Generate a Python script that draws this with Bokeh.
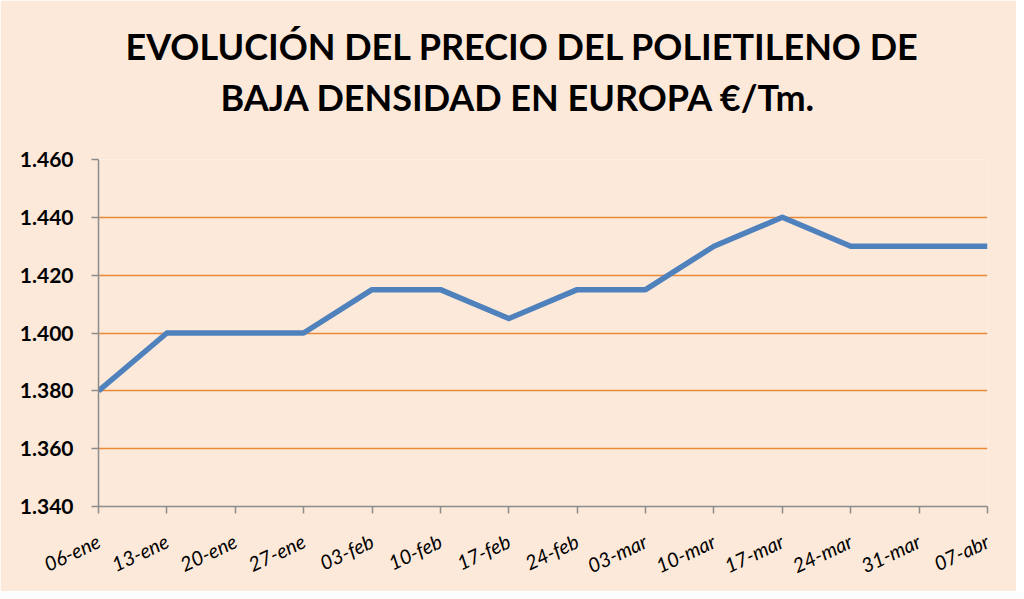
from bokeh.plotting import figure
from bokeh.models import Title, FixedTicker, Range1d
from bokeh.embed import file_html
from bokeh.resources import INLINE

fechas = ["06-ene", "13-ene", "20-ene", "27-ene", "03-feb", "10-feb", "17-feb",
          "24-feb", "03-mar", "10-mar", "17-mar", "24-mar", "31-mar", "07-abr"]
precios = [1380, 1400, 1400, 1400, 1415, 1415, 1405, 1415, 1415, 1430, 1440, 1430, 1430, 1430]
y_ticks = [1340, 1360, 1380, 1400, 1420, 1440, 1460]
y_labels = ["1.340", "1.360", "1.380", "1.400", "1.420", "1.440", "1.460"]
titulo1 = "EVOLUCIÓN DEL PRECIO DEL POLIETILENO DE"
titulo2 = "BAJA DENSIDAD EN EUROPA €/Tm."

BG = "#FDE9D9"
FONT = "Lato"

x = list(range(len(fechas)))

p = figure(width=1016, height=591, output_backend="svg", toolbar_location=None,
           x_range=Range1d(0, len(fechas) - 1), y_range=Range1d(1340, 1460),
           min_border_left=98, min_border_right=29, min_border_top=159, min_border_bottom=83,
           background_fill_color=BG, border_fill_color=BG, outline_line_color=None)
p.title = None

spacer = Title(text=" ", text_font=FONT, text_font_size="28px", standoff=0)
t2 = Title(text=titulo2, align="left", offset=122, text_font=FONT, text_font_size="36px",
           text_font_style="bold", text_color="black", standoff=10)
t1 = Title(text=titulo1, align="left", offset=27, text_font=FONT, text_font_size="36px",
           text_font_style="bold", text_color="black", standoff=0)
p.add_layout(spacer, "above")
p.add_layout(t2, "above")
p.add_layout(t1, "above")

p.line(x, precios, line_color="#4F81BD", line_width=5.5, line_join="round")

p.xgrid.visible = False
p.ygrid.ticker = FixedTicker(ticks=y_ticks)
p.ygrid.grid_line_color = "#E98A3A"
p.ygrid.grid_line_width = 1.5

p.yaxis.ticker = FixedTicker(ticks=y_ticks)
p.yaxis.major_label_overrides = dict(zip(y_ticks, y_labels))
p.yaxis.major_label_text_font = FONT
p.yaxis.major_label_text_font_style = "bold"
p.yaxis.major_label_text_font_size = "21px"
p.yaxis.major_label_text_color = "black"
p.yaxis.axis_line_color = "#8C8C8C"
p.yaxis.axis_line_width = 1.5
p.yaxis.major_tick_line_color = "#8C8C8C"
p.yaxis.major_tick_line_width = 1.5
p.yaxis.major_tick_in = 0
p.yaxis.major_tick_out = 7
p.yaxis.minor_tick_line_color = None
p.yaxis.major_label_standoff = 18

p.xaxis.ticker = FixedTicker(ticks=x)
p.xaxis.major_label_overrides = {i: f for i, f in enumerate(fechas)}
p.xaxis.major_label_orientation = 0.44
p.xaxis.major_label_text_font = FONT
p.xaxis.major_label_text_font_style = "italic"
p.xaxis.major_label_text_font_size = "20px"
p.xaxis.major_label_text_color = "black"
p.xaxis.axis_line_color = "#8C8C8C"
p.xaxis.axis_line_width = 1.5
p.xaxis.major_tick_line_color = "#8C8C8C"
p.xaxis.major_tick_line_width = 1.5
p.xaxis.major_tick_in = 0
p.xaxis.major_tick_out = 7
p.xaxis.minor_tick_line_color = None
p.xaxis.major_label_standoff = 26

open("out.html", "w").write(file_html(p, INLINE))
